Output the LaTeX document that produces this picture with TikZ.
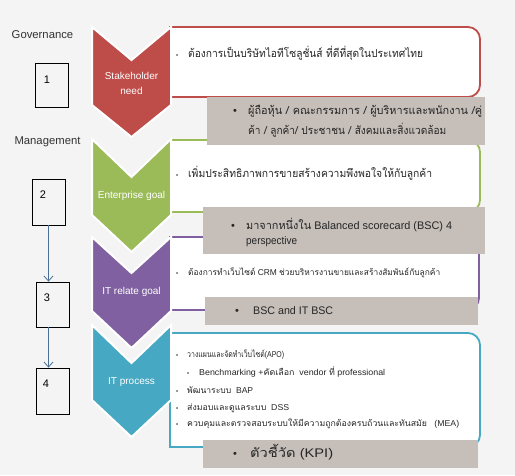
\documentclass[tikz,border=0pt]{standalone}
\usepackage{fontspec}
\usepackage{graphicx}
\setmainfont{Liberation Sans}
\newfontfamily\thfont[Script=Thai]{Loma}
\usetikzlibrary{arrows.meta}
\definecolor{bgc}{RGB}{244,244,244}
\definecolor{cred}{RGB}{190,76,73}
\definecolor{cgreen}{RGB}{155,187,89}
\definecolor{cpurple}{RGB}{128,96,160}
\definecolor{cteal}{RGB}{70,168,194}
\definecolor{cgrey}{RGB}{197,190,185}
\definecolor{cline}{RGB}{74,112,153}
\newcommand\sidebox[5]{%
 \draw[#1] (#2,#3) -- ({#4-12},#3) .. controls ({#4-5.4},#3) and (#4,{#3+5.4}) .. (#4,{#3+12})
  -- (#4,{#5-12}) .. controls (#4,{#5-5.4}) and ({#4-5.4},#5) .. ({#4-12},#5) -- (#2,#5) -- cycle;}
\newcommand\chev[5]{%
 \filldraw[chevstyle=#1] (92,#2) -- (131.5,#3) -- (171,#2) -- (171,#4) -- (131.5,#5) -- (92,#4) -- cycle;}
\newcommand\smb[1]{\makebox[#1pt][l]{\fontsize{6}{6}\selectfont\raisebox{0.5pt}{•}}}
\newcommand\bgb[1]{\makebox[#1pt][l]{\fontsize{11}{12}\selectfont•}}
\newcommand\fw[2]{\resizebox{#1pt}{\height}{#2}}
\begin{document}
\begin{tikzpicture}[x=1pt,y=-1pt,
  chevstyle/.style={fill=#1, draw=white, line width=2pt},
  cbox/.style={draw=#1, line width=1.8pt, fill=white},
  gbox/.style={fill=cgrey, draw=none},
  lbl/.style={font=\fontsize{11.3}{13}\selectfont, text=black!80, inner sep=0},
  numbox/.style={draw=black, line width=0.8pt, minimum width=33pt, inner sep=0},
  numtxt/.style={font=\fontsize{11}{13}\selectfont, inner sep=0},
  chtext/.style={text=white, font=\fontsize{10}{15}\selectfont, align=center, inner sep=0},
  btext/.style={anchor=mid west, inner sep=0, font=\fontsize{11}{12}\selectfont, text=black!85},
  stext/.style={anchor=mid west, inner sep=0, font=\fontsize{8.5}{10}\selectfont, text=black!85},
  gtext/.style={anchor=mid west, inner sep=0, font=\fontsize{11}{12}\selectfont, text=black!85},
  conn/.style={draw=cline, line width=0.8pt, -{Straight Barb[length=5pt,width=9pt]}}
]
\useasboundingbox (0,0) rectangle (515,475);
\fill[bgc] (0,0) rectangle (515,475);

% coloured text boxes
\sidebox{cbox=cred}{170}{27}{480}{97}
\sidebox{cbox=cgreen}{170}{140}{480}{212}
\sidebox{cbox=cpurple}{170}{237}{479}{310}
\sidebox{cbox=cteal}{170}{333}{480}{447}

% chevrons
\chev{cred}{27}{60}{105}{137}
\chev{cgreen}{139}{177}{215}{252}
\chev{cpurple}{237}{273}{311}{348}
\chev{cteal}{325}{363}{400}{437}

% grey boxes
\fill[gbox] (207,97) rectangle (485,145);
\fill[gbox] (203,207) rectangle (485,254);
\fill[gbox] (205,297) rectangle (478,325);
\fill[gbox] (203,440) rectangle (478,468);

% chevron labels
\node[chtext] (c1) at (131.5,83.5) {Stakeholder\\need};
\node[chtext] (c2) at (131.5,196) {Enterprise goal};
\node[chtext] (c3) at (131.5,292) {IT relate goal};
\node[chtext] (c4) at (131.5,382) {IT process};

% left column
\node[lbl] (gov) at (42.5,35) {Governance};
\node[lbl] (man) at (47.5,142) {Management};
\node[numbox, minimum height=44pt] (b1) at (51.5,85) {};
\node[numbox, minimum height=46pt] (b2) at (48.5,202) {};
\node[numbox, minimum height=45pt] (b3) at (52.5,304.5) {};
\node[numbox, minimum height=46pt] (b4) at (52.5,391) {};
\node[numtxt] (n1) at (47,80) {1};
\node[numtxt] (n2) at (43,195) {2};
\node[numtxt] (n3) at (47,298) {3};
\node[numtxt] (n4) at (46,384) {4};
\draw[conn] (b2.south) -- (b2.south |- b3.north);
\draw[conn] (b3.south -| b2.south) -- (b4.north -| b2.south);

% texts
\node[btext] (t1) at (176,55) {\smb{12}\fw{235}{\thfont ต้องการเป็นบริษัทไอทีโซลูชั่นส์ ที่ดีที่สุดในประเทศไทย}};
\node[gtext] (g1a) at (233,112) {\bgb{15}\fw{234}{\thfont ผู้ถือหุ้น / คณะกรรมการ / ผู้บริหารและพนักงาน /คู่}};
\node[gtext] (g1b) at (248,132) {\fw{198}{\thfont ค้า / ลูกค้า/ ประชาชน / สังคมและสิ่งแวดล้อม}};

\node[btext] (t2) at (176,175) {\smb{12}\fw{244}{\thfont เพิ่มประสิทธิภาพการขายสร้างความพึงพอใจให้กับลูกค้า}};
\node[gtext] (g2a) at (231,227) {\bgb{15}\fw{206}{{\thfont มาจากหนึ่งใน} Balanced scorecard (BSC) 4}};
\node[gtext] (g2b) at (246,242) {\fw{51}{perspective}};

\node[stext] (t3) at (176,273) {\smb{12}\fw{252}{{\thfont ต้องการทำเว็บไซต์} CRM {\thfont ช่วยบริหารงานขายและสร้างสัมพันธ์กับลูกค้า}}};
\node[gtext] (g3) at (235,312) {\bgb{18}\fw{80}{BSC and IT BSC}};

\node[stext] (p1) at (176,355) {\smb{11}\fw{97}{{\thfont วางแผนและจัดทำเว็บไซต์}(APO)}};
\node[stext] (p2) at (187,373) {\smb{12}\fw{186}{Benchmarking +{\thfont คัดเลือก}\ \ vendor {\thfont ที่} professional}};
\node[stext] (p3) at (176,391) {\smb{11}\fw{66}{{\thfont พัฒนาระบบ}\ \ BAP}};
\node[stext] (p4) at (176,408) {\smb{11}\fw{102}{{\thfont ส่งมอบและดูแลระบบ}\ \ DSS}};
\node[stext] (p5) at (176,424) {\smb{11}\fw{272}{{\thfont ควบคุมและตรวจสอบระบบให้มีความถูกต้องครบถ้วนและทันสมัย}\ \ \ (MEA)}};
\node[gtext, font=\fontsize{12.5}{13}\selectfont] (g4) at (233,455) {\bgb{17}\fw{83}{{\thfont ตัวชี้วัด} (KPI)}};
\end{tikzpicture}
\end{document}
